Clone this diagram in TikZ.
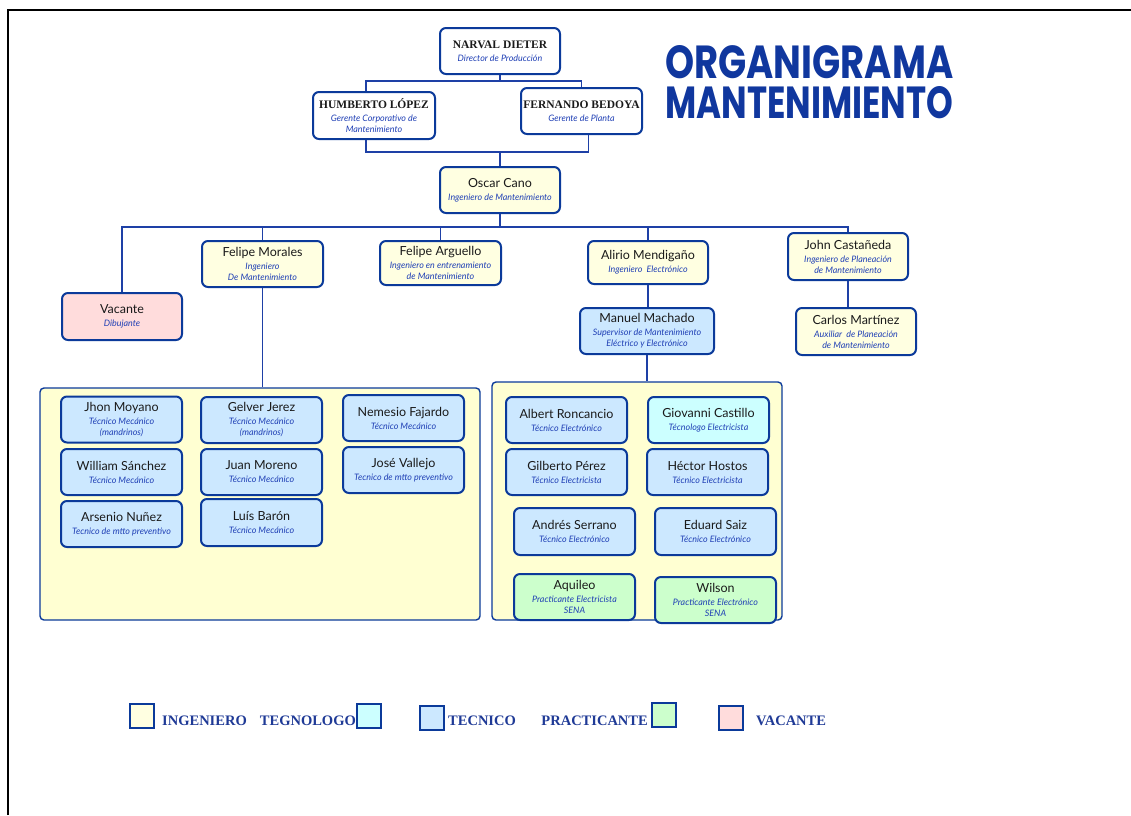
\documentclass[tikz,border=0pt]{standalone}
\usepackage{fontspec}
\setmainfont{Lato}
\newfontfamily\capsfont{Liberation Serif}
\newfontfamily\titlefont{Poppins}
\usetikzlibrary{calc}

\definecolor{bord}{HTML}{0B3A9A}
\definecolor{linec}{HTML}{1E40A6}
\definecolor{titlec}{HTML}{10379E}
\definecolor{namec}{HTML}{1A1A1A}
\definecolor{rolec}{HTML}{1F3FB5}
\definecolor{legc}{HTML}{1F3A96}
\definecolor{ingc}{HTML}{FFFFE1}
\definecolor{tecc}{HTML}{CCE8FF}
\definecolor{tglc}{HTML}{CCFFFF}
\definecolor{prac}{HTML}{CCFFCC}
\definecolor{vacc}{HTML}{FFDCDC}
\definecolor{grpc}{HTML}{FFFFD2}

% name line, role line and the serif capitals of the top managers
\newcommand\pname[1]{{\fontsize{12.5}{12.5}\selectfont #1}}
\newcommand\prole[1]{{\color{rolec}\itshape #1}}
\newcommand\pcaps[1]{{\capsfont\bfseries\fontsize{11.5}{12}\selectfont #1}}

\tikzset{
  box/.style={draw=bord, line width=2pt, rounded corners=6pt, inner sep=1pt,
    align=center, text=namec, font=\fontsize{8.9}{11}\selectfont,
    minimum width=121pt, minimum height=46pt},
  ing/.style={box, fill=ingc},
  tec/.style={box, fill=tecc},
  tgl/.style={box, fill=tglc},
  pra/.style={box, fill=prac},
  vac/.style={box, fill=vacc},
  grp/.style={draw=bord, line width=1.4pt, rounded corners=4pt, fill=grpc},
  conn/.style={draw=linec, line width=1.8pt},
  legbox/.style={draw=bord, line width=1.6pt, minimum width=24pt, minimum height=24pt, inner sep=0pt},
  legtext/.style={inner sep=0pt, text=legc, font=\capsfont\bfseries\fontsize{14.5}{15}\selectfont}
}

\begin{document}
\begin{tikzpicture}[x=1pt,y=-1pt]
\useasboundingbox (0,0) rectangle (1131,815);

% page frame
\draw[line width=2pt] (8,815) -- (8,10) -- (1131,10);

% title, both lines stretched to the same width
\node[anchor=north west, inner sep=0pt, text=titlec] (t1) at (665,45)
  {\resizebox{288pt}{33pt}{\titlefont\bfseries ORGANIGRAMA}};
\node[anchor=north west, inner sep=0pt, text=titlec] (t2) at (665,86)
  {\resizebox{288pt}{32pt}{\titlefont\bfseries MANTENIMIENTO}};

% management
\node[box, fill=white, minimum width=120pt] (narval) at (500,51)
  {\pcaps{NARVAL DIETER}\\[2pt]\prole{Director de Producción}};
\node[box, fill=white, minimum width=122pt, minimum height=47pt] (humberto) at (374,115.5)
  {\pcaps{HUMBERTO LÓPEZ}\\[2pt]\prole{Gerente Corporativo de}\\\prole{Mantenimiento}};
\node[box, fill=white] (fernando) at (581.5,111)
  {\pcaps{FERNANDO BEDOYA}\\[2pt]\prole{Gerente de Planta}};
\node[ing, minimum width=120pt] (oscar) at (500,190)
  {\pname{Oscar Cano}\\[2pt]\prole{Ingeniero de Mantenimiento}};

% second level
\node[vac, minimum width=120pt, minimum height=47pt] (vacante) at (122,316.5)
  {\pname{Vacante}\\[2pt]\prole{Dibujante}};
\node[ing] (morales) at (262.5,264)
  {\pname{Felipe Morales}\\[2pt]\prole{Ingeniero}\\\prole{De Mantenimiento}};
\node[ing, minimum height=44pt] (arguello) at (440.5,263)
  {\pname{Felipe Arguello}\\[2pt]\prole{Ingeniero en entrenamiento}\\\prole{de Mantenimiento}};
\node[ing, minimum width=120pt, minimum height=43pt] (alirio) at (648,262.5)
  {\pname{Alirio Mendigaño}\\[2pt]\prole{Ingeniero~ Electrónico}};
\node[ing, minimum width=120pt, minimum height=47pt] (john) at (848,256.5)
  {\pname{John Castañeda}\\[2pt]\prole{Ingeniero de Planeación}\\\prole{de Mantenimiento}};
\node[ing, minimum width=120pt, minimum height=47pt] (carlos) at (856,331.5)
  {\pname{Carlos Martínez}\\[2pt]\prole{Auxiliar~ de Planeación}\\\prole{de Mantenimiento}};
\node[tec, minimum width=134pt] (manuel) at (647,331)
  {\pname{Manuel Machado}\\[2pt]\prole{Supervisor de Mantenimiento}\\\prole{Eléctrico y Electrónico}};

% groups of technicians
\node[grp, minimum width=440pt, minimum height=232pt] (leftgrp) at (260,504) {};
\node[grp, minimum width=290pt, minimum height=238pt] (rightgrp) at (637,501) {};

\node[tec] (jhon) at (121.5,419.5)
  {\pname{Jhon Moyano}\\[2pt]\prole{Técnico Mecánico}\\\prole{(mandrinos)}};
\node[tec] (gelver) at (261.5,420)
  {\pname{Gelver Jerez}\\[2pt]\prole{Técnico Mecánico}\\\prole{(mandrinos)}};
\node[tec] (nemesio) at (403.5,418)
  {\pname{Nemesio Fajardo}\\[2pt]\prole{Técnico Mecánico}};
\node[tec] (william) at (121.5,472)
  {\pname{William Sánchez}\\[2pt]\prole{Técnico Mecánico}};
\node[tec] (juan) at (261.5,472)
  {\pname{Juan Moreno}\\[2pt]\prole{Técnico Mecánico}};
\node[tec] (jose) at (403.5,470)
  {\pname{José Vallejo}\\[2pt]\prole{Tecnico de mtto preventivo}};
\node[tec] (arsenio) at (121.5,524)
  {\pname{Arsenio Nuñez}\\[2pt]\prole{Tecnico de mtto preventivo}};
\node[tec, minimum height=47pt] (luis) at (261.5,522.5)
  {\pname{Luís Barón}\\[2pt]\prole{Técnico Mecánico}};

\node[tec] (albert) at (566.5,420)
  {\pname{Albert Roncancio}\\[2pt]\prole{Técnico Electrónico}};
\node[tgl] (giovanni) at (708.5,420)
  {\pname{Giovanni Castillo}\\[2pt]\prole{Técnologo Electricista}};
\node[tec] (gilberto) at (566.5,472)
  {\pname{Gilberto Pérez}\\[2pt]\prole{Técnico Electricista}};
\node[tec] (hector) at (707.5,472)
  {\pname{Héctor Hostos}\\[2pt]\prole{Técnico Electricista}};
\node[tec, minimum height=47pt] (andres) at (574.5,531.5)
  {\pname{Andrés Serrano}\\[2pt]\prole{Técnico Electrónico}};
\node[tec, minimum height=47pt] (eduard) at (715.5,531.5)
  {\pname{Eduard Saiz}\\[2pt]\prole{Técnico Electrónico}};
\node[pra] (aquileo) at (574.5,597)
  {\pname{Aquileo}\\[2pt]\prole{Practicante Electricista}\\\prole{SENA}};
\node[pra] (wilson) at (715.5,600)
  {\pname{Wilson}\\[2pt]\prole{Practicante Electrónico}\\\prole{SENA}};

% connectors
\coordinate (dtop) at ($(narval.south)+(0,6)$);
\draw[conn] (narval.south) -- (dtop);
\draw[conn] (dtop) -| ([xshift=-8pt]humberto.north);
\draw[conn] (dtop) -| (fernando.north);
\coordinate (join) at (500,152);
\draw[conn] ([xshift=-8pt]humberto.south) |- (join) -| ([xshift=7pt]fernando.south);
\draw[conn] (join) -- (oscar.north);
\coordinate (bus) at (500,227);
\draw[conn] (oscar.south) -- (bus);
\draw[conn] (vacante.north) |- (bus) -| (john.north);
\draw[conn] (morales.north) -- (morales.north |- bus);
\draw[conn] (arguello.north) -- (arguello.north |- bus);
\draw[conn] (alirio.north) -- (alirio.north |- bus);
\draw[conn] (alirio.south) -- (manuel.north -| alirio.south);
\draw[conn] (john.south) -- (john.south |- carlos.north);
\draw[conn] (morales.south) -- (morales.south |- leftgrp.north);
\draw[conn] (manuel.south) -- (manuel.south |- rightgrp.north);

% legend
\node[legbox, fill=ingc] (lg1) at (142,716) {};
\node[legtext, anchor=base west] (lt1) at (162,725) {INGENIERO};
\node[legtext, anchor=base east] (lt2) at (356,725) {TEGNOLOGO};
\node[legbox, fill=tglc] (lg2) at (369,716) {};
\node[legbox, fill=tecc] (lg3) at (432,718) {};
\node[legtext, anchor=base west] (lt3) at (448,725) {TECNICO};
\node[legtext, anchor=base east] (lt4) at (648,725) {PRACTICANTE};
\node[legbox, fill=prac] (lg4) at (664,715) {};
\node[legbox, fill=vacc] (lg5) at (731,718) {};
\node[legtext, anchor=base west] (lt5) at (756,725) {VACANTE};
\end{tikzpicture}
\end{document}
